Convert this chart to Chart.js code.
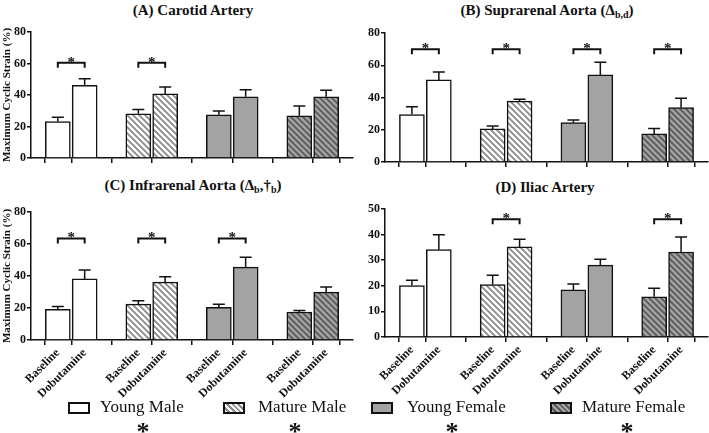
<!DOCTYPE html>
<html>
<head>
<meta charset="utf-8">
<script src="https://cdn.jsdelivr.net/npm/chart.js@4.4.1/dist/chart.umd.min.js"></script>
<style>
body { margin: 0; background: #fff; width: 709px; height: 433px; overflow: hidden; position: relative; font-family: 'Liberation Serif', 'Times New Roman', serif; color: #111; }
.panel { position: absolute; }
.title { position: absolute; font-weight: bold; font-size: 15px; line-height: 18px; white-space: nowrap; transform: translateX(-50%); }
.title sub { font-size: 10px; vertical-align: -3px; }
.swatch { position: absolute; width: 18px; height: 8px; border: 2px solid #111; }
.ltext { position: absolute; font-size: 17px; line-height: 20px; white-space: nowrap; }
.star { position: absolute; font-size: 26px; font-weight: bold; line-height: 26px; transform: translateX(-50%); }
</style>
</head>
<body>

<div class="title" style="left:193px;top:1px">(A) Carotid Artery</div>
<div class="title" style="left:547px;top:1px">(B) Suprarenal Aorta (Δ<sub>b,d</sub>)</div>
<div class="title" style="left:193px;top:176px">(C) Infrarenal Aorta (Δ<sub>b</sub>,†<sub>b</sub>)</div>
<div class="title" style="left:545px;top:178px">(D) Iliac Artery</div>

<div class="panel" style="left:0;top:0;width:355px;height:172px"><canvas id="chartA"></canvas></div>
<div class="panel" style="left:355px;top:0;width:354px;height:175px"><canvas id="chartB"></canvas></div>
<div class="panel" style="left:0;top:172px;width:355px;height:228px"><canvas id="chartC"></canvas></div>
<div class="panel" style="left:355px;top:172px;width:354px;height:228px"><canvas id="chartD"></canvas></div>

<div id="legend"></div>

<script>
//groups and bar labels

const groups = ['Young Male', 'Mature Male', 'Young Female', 'Mature Female'];
const tickLabels = ['Baseline', 'Dobutamine', 'Baseline', 'Dobutamine', 'Baseline', 'Dobutamine', 'Baseline', 'Dobutamine'];
const xPositions = [0, 1, 3, 4, 6, 7, 9, 10];

//means and upper error (SEM) for each panel

const carotidMean = [23.1, 46.1, 28.1, 40.7, 27.4, 38.9, 26.8, 38.9];
const carotidErr = [2.7, 4.2, 2.7, 4.4, 2.5, 4.5, 6.2, 4.1];
const carotidSig = [true, true, false, false];

const supraMean = [29.4, 50.9, 20.5, 37.8, 24.4, 54.0, 17.4, 33.7];
const supraErr = [4.9, 4.9, 1.8, 1.1, 1.6, 7.8, 3.3, 5.8];
const supraSig = [true, true, true, true];

const infraMean = [19.1, 38.2, 22.4, 36.2, 20.4, 45.5, 17.5, 29.9];
const infraErr = [1.9, 5.6, 2.1, 3.3, 2.0, 6.2, 1.0, 3.3];
const infraSig = [true, true, true, false];

const iliacMean = [20.1, 34.1, 20.5, 35.2, 18.4, 28.1, 15.7, 33.2];
const iliacErr = [2.1, 5.8, 3.6, 3.0, 2.3, 2.3, 3.3, 5.9];
const iliacSig = [false, true, false, true];

//y axis ticks

const strainTicks = [0, 20, 40, 60, 80];
const iliacTicks = [0, 10, 20, 30, 40, 50];

const serif = '"Liberation Serif", "Times New Roman", serif';

//fills: plain and diagonal stripes

function stripes(bg, fg) {
	const c = document.createElement('canvas');
	c.width = 6;
	c.height = 6;
	const g = c.getContext('2d');
	g.fillStyle = bg;
	g.fillRect(0, 0, 6, 6);
	g.strokeStyle = fg;
	g.lineWidth = 1.8;
	g.beginPath();
	g.moveTo(-1, -1); g.lineTo(7, 7);
	g.moveTo(-1, 5); g.lineTo(1, 7);
	g.moveTo(5, -1); g.lineTo(7, 1);
	g.stroke();
	return g.createPattern(c, 'repeat');
}

const groupFills = ['#ffffff', stripes('#ffffff', '#8a8a8a'), '#a3a3a3', stripes('#a3a3a3', '#5a5a5a')];
const barFills = xPositions.map((x, i) => groupFills[Math.floor(i / 2)]);

//error bars and significance brackets

const markers = {
	id: 'markers',
	afterDatasetsDraw(chart, args, opts) {
		const ctx = chart.ctx;
		const xs = chart.scales.x;
		const ys = chart.scales.y;
		ctx.save();
		ctx.strokeStyle = '#111';
		ctx.lineWidth = 1.5;
		opts.mean.forEach((m, i) => {
			const cx = xs.getPixelForValue(xPositions[i]);
			const y0 = ys.getPixelForValue(m);
			const y1 = ys.getPixelForValue(m + opts.err[i]);
			ctx.beginPath();
			ctx.moveTo(cx, y0);
			ctx.lineTo(cx, y1);
			ctx.moveTo(cx - 6, y1);
			ctx.lineTo(cx + 6, y1);
			ctx.stroke();
		});
		ctx.lineWidth = 2;
		ctx.fillStyle = '#111';
		ctx.font = 'bold 15px ' + serif;
		ctx.textAlign = 'center';
		ctx.textBaseline = 'alphabetic';
		opts.sig.forEach((s, g) => {
			if (!s) return;
			const xa = xs.getPixelForValue(xPositions[2 * g]);
			const xb = xs.getPixelForValue(xPositions[2 * g + 1]);
			const yb = ys.getPixelForValue(opts.bracket);
			ctx.beginPath();
			ctx.moveTo(xa, yb + 5);
			ctx.lineTo(xa, yb);
			ctx.lineTo(xb, yb);
			ctx.lineTo(xb, yb + 5);
			ctx.stroke();
			ctx.fillText('*', (xa + xb) / 2, yb + 4);
		});
		ctx.restore();
	}
};

//build one panel

function makePanel(id, p) {
	new Chart(document.getElementById(id), {
		type: 'bar',
		data: {
			datasets: [{
				data: xPositions.map((x, i) => ({ x: x, y: p.mean[i] })),
				backgroundColor: barFills,
				borderColor: '#111',
				borderWidth: 1.5,
				barThickness: 25
			}]
		},
		options: {
			responsive: true,
			maintainAspectRatio: false,
			animation: false,
			layout: { padding: { top: p.top, right: p.right, left: 0, bottom: 0 } },
			plugins: {
				legend: { display: false },
				tooltip: { enabled: false },
				markers: { mean: p.mean, err: p.err, sig: p.sig, bracket: p.bracket }
			},
			scales: {
				x: {
					type: 'linear',
					offset: false,
					min: -1,
					max: 11,
					afterBuildTicks: axis => { axis.ticks = xPositions.map(v => ({ value: v })); },
					afterFit: axis => { axis.height = p.xHeight; },
					grid: { drawOnChartArea: false, drawTicks: true, tickLength: 5, color: '#111', lineWidth: 1.5 },
					border: { color: '#111', width: 1.5 },
					ticks: {
						display: p.xLabels,
						autoSkip: false,
						minRotation: 45,
						maxRotation: 45,
						padding: 1,
						color: '#111',
						font: { family: serif, weight: 'bold', size: 12 },
						callback: v => tickLabels[xPositions.indexOf(v)]
					}
				},
				y: {
					min: 0,
					max: p.ticks[p.ticks.length - 1],
					afterBuildTicks: axis => { axis.ticks = p.ticks.map(v => ({ value: v })); },
					afterFit: axis => { axis.width = p.yWidth; },
					grid: { drawOnChartArea: false, drawTicks: true, tickLength: 4, color: '#111', lineWidth: 1.5 },
					border: { color: '#111', width: 1.5 },
					ticks: {
						padding: 1,
						color: '#111',
						font: { family: serif, weight: 'bold', size: 12 }
					},
					title: {
						display: p.yTitle,
						text: 'Maximum Cyclic Strain (%)',
						color: '#111',
						padding: { top: 1, bottom: 0 },
						font: { family: serif, weight: 'bold', size: 11 }
					}
				}
			}
		},
		plugins: [markers]
	});
}

makePanel('chartA', { mean: carotidMean, err: carotidErr, sig: carotidSig, bracket: 60.5, ticks: strainTicks,
	top: 32, right: 2, xHeight: 14, yWidth: 31, xLabels: false, yTitle: true });
makePanel('chartB', { mean: supraMean, err: supraErr, sig: supraSig, bracket: 70, ticks: strainTicks,
	top: 33, right: 1, xHeight: 13, yWidth: 30, xLabels: false, yTitle: false });
makePanel('chartC', { mean: infraMean, err: infraErr, sig: infraSig, bracket: 63.5, ticks: strainTicks,
	top: 40, right: 2, xHeight: 60, yWidth: 31, xLabels: true, yTitle: true });
makePanel('chartD', { mean: iliacMean, err: iliacErr, sig: iliacSig, bracket: 46, ticks: iliacTicks,
	top: 37, right: 1, xHeight: 63, yWidth: 30, xLabels: true, yTitle: false });

//legend under the panels

const legendSwatchX = [68, 223, 371, 550];
const legendTextX = [100, 258, 407, 582];
const legendStarX = [143, 295, 452, 627];
const swatchCss = [
	'background:#fff',
	'background:repeating-linear-gradient(45deg,#fff 0 2px,#8a8a8a 2px 4px)',
	'background:#a3a3a3',
	'background:repeating-linear-gradient(45deg,#a3a3a3 0 2px,#5a5a5a 2px 4px)'
];
const legend = document.getElementById('legend');
groups.forEach((name, i) => {
	legend.insertAdjacentHTML('beforeend',
		`<div class="swatch" style="left:${legendSwatchX[i]}px;top:402px;${swatchCss[i]}"></div>` +
		`<div class="ltext" style="left:${legendTextX[i]}px;top:397px">${name}</div>` +
		`<div class="star" style="left:${legendStarX[i]}px;top:419px">*</div>`);
});
</script>
</body>
</html>
